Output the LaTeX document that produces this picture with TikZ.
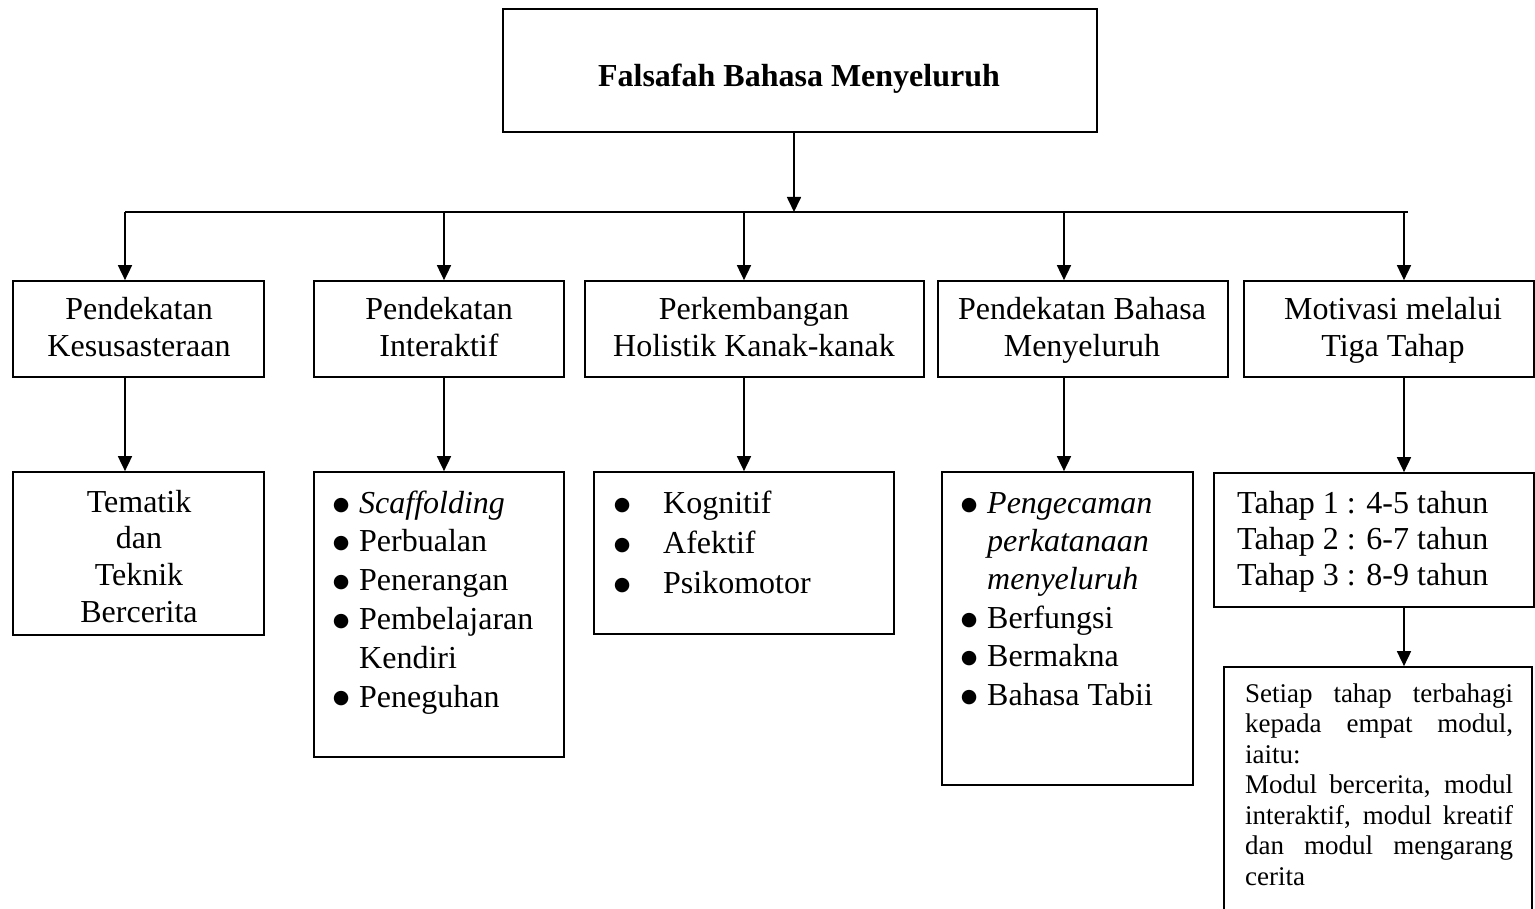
\documentclass[tikz,border=0pt]{standalone}
\usepackage{fontspec}
\setmainfont{Liberation Serif}
\newfontfamily\bulfont{DejaVu Sans}
\usetikzlibrary{arrows.meta}
\newcommand{\bul}{\makebox[16pt][c]{\raisebox{3pt}{\bulfont\fontsize{19}{19}\selectfont ●}}}
\tikzset{
  box/.style={draw, line width=1.7pt, inner sep=0pt, rectangle},
  arr/.style={line width=1.7pt, -{Triangle[length=15pt,width=14pt]}},
  link/.style={line width=1.7pt},
  txt/.style={inner sep=0pt, anchor=base},
  txtw/.style={inner sep=0pt, anchor=base west},
}
\begin{document}
\begin{tikzpicture}[x=1pt,y=-1pt]
\useasboundingbox (0,0) rectangle (1535,909);
\clip (0,0) rectangle (1535,909);
% boxes
\node[box, minimum width=594pt, minimum height=123pt] (top) at (800,70.5) {};
\node[box, minimum width=251pt, minimum height=96pt] (m1) at (138.5,329) {};
\node[box, minimum width=250pt, minimum height=96pt] (m2) at (439,329) {};
\node[box, minimum width=339pt, minimum height=96pt] (m3) at (754.5,329) {};
\node[box, minimum width=290pt, minimum height=96pt] (m4) at (1083,329) {};
\node[box, minimum width=290pt, minimum height=96pt] (m5) at (1389,329) {};
\node[box, minimum width=251pt, minimum height=163pt] (b1) at (138.5,553.5) {};
\node[box, minimum width=250pt, minimum height=285pt] (b2) at (439,614.5) {};
\node[box, minimum width=300pt, minimum height=162pt] (b3) at (744,553) {};
\node[box, minimum width=251pt, minimum height=313pt] (b4) at (1067.5,628.5) {};
\node[box, minimum width=320pt, minimum height=134pt] (b5) at (1374,540) {};
\node[box, minimum width=308pt, minimum height=273pt] (b6) at (1378,803.5) {};
% texts
\node[txt, font=\fontsize{32}{37}\selectfont\bfseries] (ttop) at (799,87) {Falsafah Bahasa Menyeluruh};
\node[txt, font=\fontsize{32}{37}\selectfont] (tm1) at (139,320) {\begin{tabular}[t]{@{}c@{}}Pendekatan\\Kesusasteraan\end{tabular}};
\node[txt, font=\fontsize{32}{37}\selectfont] (tm2) at (439,320) {\begin{tabular}[t]{@{}c@{}}Pendekatan\\Interaktif\end{tabular}};
\node[txt, font=\fontsize{32}{37}\selectfont] (tm3) at (754,320) {\begin{tabular}[t]{@{}c@{}}Perkembangan\\Holistik Kanak-kanak\end{tabular}};
\node[txt, font=\fontsize{32}{37}\selectfont] (tm4) at (1082,320) {\begin{tabular}[t]{@{}c@{}}Pendekatan Bahasa\\Menyeluruh\end{tabular}};
\node[txt, font=\fontsize{32}{37}\selectfont] (tm5) at (1393,320) {\begin{tabular}[t]{@{}c@{}}Motivasi melalui\\Tiga Tahap\end{tabular}};
\node[txt, font=\fontsize{32}{36.7}\selectfont] (tb1) at (139,512) {\begin{tabular}[t]{@{}c@{}}Tematik\\dan\\Teknik\\Bercerita\end{tabular}};
\node[txtw, font=\fontsize{32}{38.8}\selectfont] (tb2) at (333,513) {\begin{tabular}[t]{@{}l@{\hspace{10pt}}l@{}}
\bul & \textit{Scaffolding}\\
\bul & Perbualan\\
\bul & Penerangan\\
\bul & Pembelajaran\\
 & Kendiri\\
\bul & Peneguhan\end{tabular}};
\node[txtw, font=\fontsize{32}{40}\selectfont] (tb3) at (614,513) {\begin{tabular}[t]{@{}l@{\hspace{33pt}}l@{}}
\bul & Kognitif\\
\bul & Afektif\\
\bul & Psikomotor\end{tabular}};
\node[txtw, font=\fontsize{32}{38.4}\selectfont] (tb4) at (961,513) {\begin{tabular}[t]{@{}l@{\hspace{10pt}}l@{}}
\bul & \textit{Pengecaman}\\
 & \textit{perkatanaan}\\
 & \textit{menyeluruh}\\
\bul & Berfungsi\\
\bul & Bermakna\\
\bul & Bahasa Tabii\end{tabular}};
\node[txtw, font=\fontsize{32}{36}\selectfont] (tb5) at (1237,513) {\begin{tabular}[t]{@{}l@{}}
Tahap 1 : 4-5 tahun\\
Tahap 2 : 6-7 tahun\\
Tahap 3 : 8-9 tahun\end{tabular}};
\node[txtw, font=\fontsize{27}{30.5}\selectfont] (tb6) at (1245,702) {\begin{tabular}[t]{@{}l@{}}
\makebox[268pt][s]{Setiap tahap terbahagi}\\
\makebox[268pt][s]{kepada empat modul,}\\
iaitu:\\
\makebox[268pt][s]{Modul bercerita, modul}\\
\makebox[268pt][s]{interaktif, modul kreatif}\\
\makebox[268pt][s]{dan modul mengarang}\\
cerita\end{tabular}};
% connectors
\coordinate (j0) at (794,212);
\coordinate (j1) at (125,212);
\coordinate (j2) at (444,212);
\coordinate (j3) at (744,212);
\coordinate (j4) at (1064,212);
\coordinate (j5) at (1404,212);
\coordinate (jend) at (1408,212);
\draw[link] (j1) -- (jend);
\draw[arr] (top.south -| j0) -- (j0);
\draw[arr] (j1) -- (m1.north -| j1);
\draw[arr] (j2) -- (m2.north -| j2);
\draw[arr] (j3) -- (m3.north -| j3);
\draw[arr] (j4) -- (m4.north -| j4);
\draw[arr] (j5) -- (m5.north -| j5);
\draw[arr] (m1.south -| j1) -- (b1.north -| j1);
\draw[arr] (m2.south -| j2) -- (b2.north -| j2);
\draw[arr] (m3.south -| j3) -- (b3.north -| j3);
\draw[arr] (m4.south -| j4) -- (b4.north -| j4);
\draw[arr] (m5.south -| j5) -- (b5.north -| j5);
\draw[arr] (b5.south -| j5) -- (b6.north -| j5);
\end{tikzpicture}
\end{document}
